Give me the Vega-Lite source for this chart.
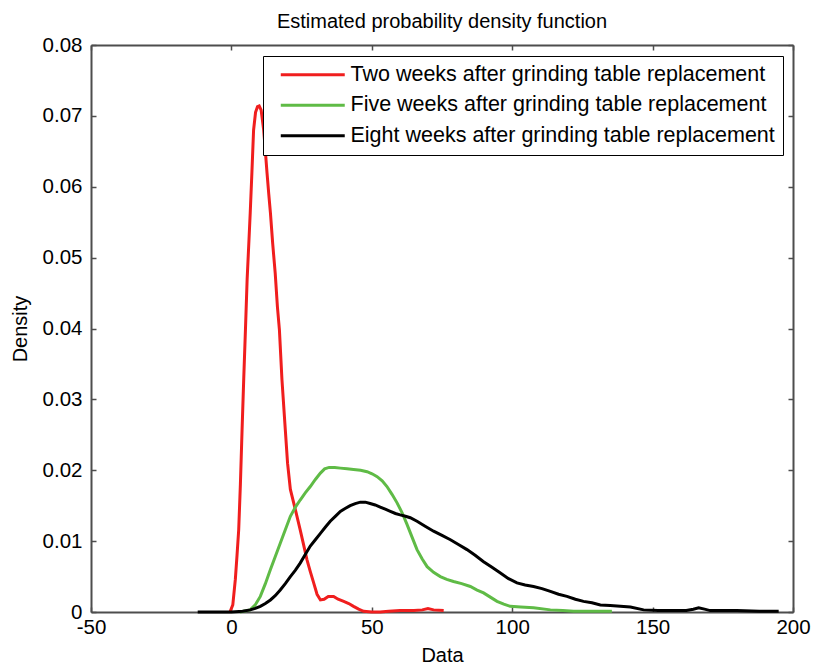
{
  "$schema": "https://vega.github.io/schema/vega-lite/v6.json",
  "width": 702,
  "height": 567,
  "autosize": {"type": "none"},
  "padding": {"left": 91, "top": 45, "right": 23, "bottom": 56},
  "background": "white",
  "config": {
    "font": "Liberation Sans",
    "view": {"stroke": null},
    "axis": {
      "domainColor": "#4d4d4d",
      "domainWidth": 2,
      "tickColor": "#4d4d4d",
      "tickWidth": 1.5,
      "tickSize": -5,
      "grid": false,
      "labelFlush": false,
      "labelFont": "Liberation Sans",
      "labelFontSize": 20.5,
      "labelColor": "black",
      "titleFont": "Liberation Sans",
      "titleFontSize": 20,
      "titleFontWeight": "normal",
      "titleColor": "black"
    }
  },
  "title": {
    "text": "Estimated probability density function",
    "fontSize": 20,
    "fontWeight": "normal",
    "font": "Liberation Sans",
    "color": "black",
    "anchor": "middle",
    "offset": 3
  },
  "data": {
    "values": [
      {"x": -0.5, "y": 0, "s": "Two weeks after grinding table replacement"},
      {"x": 0.5, "y": 0.001, "s": "Two weeks after grinding table replacement"},
      {"x": 1.4, "y": 0.0046, "s": "Two weeks after grinding table replacement"},
      {"x": 2.0, "y": 0.008, "s": "Two weeks after grinding table replacement"},
      {"x": 2.6, "y": 0.0116, "s": "Two weeks after grinding table replacement"},
      {"x": 3.2, "y": 0.018, "s": "Two weeks after grinding table replacement"},
      {"x": 3.8, "y": 0.0257, "s": "Two weeks after grinding table replacement"},
      {"x": 4.4, "y": 0.033, "s": "Two weeks after grinding table replacement"},
      {"x": 5.0, "y": 0.0398, "s": "Two weeks after grinding table replacement"},
      {"x": 5.6, "y": 0.0469, "s": "Two weeks after grinding table replacement"},
      {"x": 6.2, "y": 0.052, "s": "Two weeks after grinding table replacement"},
      {"x": 6.7, "y": 0.0563, "s": "Two weeks after grinding table replacement"},
      {"x": 7.3, "y": 0.062, "s": "Two weeks after grinding table replacement"},
      {"x": 7.9, "y": 0.068, "s": "Two weeks after grinding table replacement"},
      {"x": 8.6, "y": 0.0705, "s": "Two weeks after grinding table replacement"},
      {"x": 9.3, "y": 0.0713, "s": "Two weeks after grinding table replacement"},
      {"x": 9.9, "y": 0.0714, "s": "Two weeks after grinding table replacement"},
      {"x": 10.6, "y": 0.0708, "s": "Two weeks after grinding table replacement"},
      {"x": 11.5, "y": 0.068, "s": "Two weeks after grinding table replacement"},
      {"x": 12.1, "y": 0.065, "s": "Two weeks after grinding table replacement"},
      {"x": 12.7, "y": 0.0619, "s": "Two weeks after grinding table replacement"},
      {"x": 13.3, "y": 0.059, "s": "Two weeks after grinding table replacement"},
      {"x": 13.9, "y": 0.0563, "s": "Two weeks after grinding table replacement"},
      {"x": 14.7, "y": 0.052, "s": "Two weeks after grinding table replacement"},
      {"x": 15.6, "y": 0.0478, "s": "Two weeks after grinding table replacement"},
      {"x": 16.4, "y": 0.043, "s": "Two weeks after grinding table replacement"},
      {"x": 17.1, "y": 0.0398, "s": "Two weeks after grinding table replacement"},
      {"x": 18.0, "y": 0.0328, "s": "Two weeks after grinding table replacement"},
      {"x": 19.2, "y": 0.0257, "s": "Two weeks after grinding table replacement"},
      {"x": 20.0, "y": 0.021, "s": "Two weeks after grinding table replacement"},
      {"x": 21.0, "y": 0.0173, "s": "Two weeks after grinding table replacement"},
      {"x": 22.8, "y": 0.0144, "s": "Two weeks after grinding table replacement"},
      {"x": 24.5, "y": 0.0116, "s": "Two weeks after grinding table replacement"},
      {"x": 25.7, "y": 0.0095, "s": "Two weeks after grinding table replacement"},
      {"x": 26.9, "y": 0.0074, "s": "Two weeks after grinding table replacement"},
      {"x": 28.1, "y": 0.0057, "s": "Two weeks after grinding table replacement"},
      {"x": 29.3, "y": 0.0041, "s": "Two weeks after grinding table replacement"},
      {"x": 30.5, "y": 0.0025, "s": "Two weeks after grinding table replacement"},
      {"x": 31.7, "y": 0.0017, "s": "Two weeks after grinding table replacement"},
      {"x": 33.0, "y": 0.0018, "s": "Two weeks after grinding table replacement"},
      {"x": 34.5, "y": 0.0022, "s": "Two weeks after grinding table replacement"},
      {"x": 36.4, "y": 0.0022, "s": "Two weeks after grinding table replacement"},
      {"x": 38.0, "y": 0.0018, "s": "Two weeks after grinding table replacement"},
      {"x": 40.0, "y": 0.0015, "s": "Two weeks after grinding table replacement"},
      {"x": 41.8, "y": 0.0012, "s": "Two weeks after grinding table replacement"},
      {"x": 43.5, "y": 0.0008, "s": "Two weeks after grinding table replacement"},
      {"x": 45.3, "y": 0.0004, "s": "Two weeks after grinding table replacement"},
      {"x": 47.1, "y": 0.0001, "s": "Two weeks after grinding table replacement"},
      {"x": 50, "y": 0, "s": "Two weeks after grinding table replacement"},
      {"x": 53, "y": 0, "s": "Two weeks after grinding table replacement"},
      {"x": 56, "y": 0.0001, "s": "Two weeks after grinding table replacement"},
      {"x": 60, "y": 0.0002, "s": "Two weeks after grinding table replacement"},
      {"x": 65, "y": 0.0002, "s": "Two weeks after grinding table replacement"},
      {"x": 68, "y": 0.0003, "s": "Two weeks after grinding table replacement"},
      {"x": 70, "y": 0.0005, "s": "Two weeks after grinding table replacement"},
      {"x": 72, "y": 0.0003, "s": "Two weeks after grinding table replacement"},
      {"x": 75.6, "y": 0.0002, "s": "Two weeks after grinding table replacement"},

      {"x": 3, "y": 0, "s": "Five weeks after grinding table replacement"},
      {"x": 6.7, "y": 0.0003, "s": "Five weeks after grinding table replacement"},
      {"x": 8.5, "y": 0.001, "s": "Five weeks after grinding table replacement"},
      {"x": 10.3, "y": 0.0022, "s": "Five weeks after grinding table replacement"},
      {"x": 12.1, "y": 0.004, "s": "Five weeks after grinding table replacement"},
      {"x": 13.9, "y": 0.006, "s": "Five weeks after grinding table replacement"},
      {"x": 15.6, "y": 0.0078, "s": "Five weeks after grinding table replacement"},
      {"x": 17.4, "y": 0.0097, "s": "Five weeks after grinding table replacement"},
      {"x": 19.2, "y": 0.0116, "s": "Five weeks after grinding table replacement"},
      {"x": 21.0, "y": 0.0135, "s": "Five weeks after grinding table replacement"},
      {"x": 22.8, "y": 0.0148, "s": "Five weeks after grinding table replacement"},
      {"x": 24.5, "y": 0.0158, "s": "Five weeks after grinding table replacement"},
      {"x": 26.3, "y": 0.0168, "s": "Five weeks after grinding table replacement"},
      {"x": 28.1, "y": 0.0177, "s": "Five weeks after grinding table replacement"},
      {"x": 29.9, "y": 0.0187, "s": "Five weeks after grinding table replacement"},
      {"x": 31.7, "y": 0.0196, "s": "Five weeks after grinding table replacement"},
      {"x": 33.2, "y": 0.0202, "s": "Five weeks after grinding table replacement"},
      {"x": 34.8, "y": 0.0204, "s": "Five weeks after grinding table replacement"},
      {"x": 36.8, "y": 0.0204, "s": "Five weeks after grinding table replacement"},
      {"x": 38.8, "y": 0.0203, "s": "Five weeks after grinding table replacement"},
      {"x": 41.2, "y": 0.0202, "s": "Five weeks after grinding table replacement"},
      {"x": 43.5, "y": 0.0201, "s": "Five weeks after grinding table replacement"},
      {"x": 46.0, "y": 0.02, "s": "Five weeks after grinding table replacement"},
      {"x": 48.3, "y": 0.0198, "s": "Five weeks after grinding table replacement"},
      {"x": 50.1, "y": 0.0195, "s": "Five weeks after grinding table replacement"},
      {"x": 51.9, "y": 0.0191, "s": "Five weeks after grinding table replacement"},
      {"x": 53.7, "y": 0.0185, "s": "Five weeks after grinding table replacement"},
      {"x": 55.4, "y": 0.0177, "s": "Five weeks after grinding table replacement"},
      {"x": 57.2, "y": 0.0166, "s": "Five weeks after grinding table replacement"},
      {"x": 59.0, "y": 0.0154, "s": "Five weeks after grinding table replacement"},
      {"x": 60.8, "y": 0.014, "s": "Five weeks after grinding table replacement"},
      {"x": 62.5, "y": 0.0124, "s": "Five weeks after grinding table replacement"},
      {"x": 64.3, "y": 0.0106, "s": "Five weeks after grinding table replacement"},
      {"x": 66.1, "y": 0.0088, "s": "Five weeks after grinding table replacement"},
      {"x": 67.9, "y": 0.0075, "s": "Five weeks after grinding table replacement"},
      {"x": 69.7, "y": 0.0064, "s": "Five weeks after grinding table replacement"},
      {"x": 72.0, "y": 0.0056, "s": "Five weeks after grinding table replacement"},
      {"x": 74.4, "y": 0.005, "s": "Five weeks after grinding table replacement"},
      {"x": 76.7, "y": 0.0046, "s": "Five weeks after grinding table replacement"},
      {"x": 79.1, "y": 0.0043, "s": "Five weeks after grinding table replacement"},
      {"x": 82.0, "y": 0.004, "s": "Five weeks after grinding table replacement"},
      {"x": 85.1, "y": 0.0036, "s": "Five weeks after grinding table replacement"},
      {"x": 87.5, "y": 0.0031, "s": "Five weeks after grinding table replacement"},
      {"x": 89.8, "y": 0.0027, "s": "Five weeks after grinding table replacement"},
      {"x": 92.2, "y": 0.0021, "s": "Five weeks after grinding table replacement"},
      {"x": 94.6, "y": 0.0015, "s": "Five weeks after grinding table replacement"},
      {"x": 97.0, "y": 0.0011, "s": "Five weeks after grinding table replacement"},
      {"x": 99.3, "y": 0.0008, "s": "Five weeks after grinding table replacement"},
      {"x": 103.0, "y": 0.0007, "s": "Five weeks after grinding table replacement"},
      {"x": 107.6, "y": 0.0006, "s": "Five weeks after grinding table replacement"},
      {"x": 113.6, "y": 0.0003, "s": "Five weeks after grinding table replacement"},
      {"x": 118.0, "y": 0.0002, "s": "Five weeks after grinding table replacement"},
      {"x": 121.9, "y": 0.0001, "s": "Five weeks after grinding table replacement"},
      {"x": 128.0, "y": 0.0001, "s": "Five weeks after grinding table replacement"},
      {"x": 135.5, "y": 0.0001, "s": "Five weeks after grinding table replacement"},

      {"x": -12, "y": 0, "s": "Eight weeks after grinding table replacement"},
      {"x": -5, "y": 0, "s": "Eight weeks after grinding table replacement"},
      {"x": 0, "y": 0, "s": "Eight weeks after grinding table replacement"},
      {"x": 4, "y": 0.0001, "s": "Eight weeks after grinding table replacement"},
      {"x": 6.7, "y": 0.0003, "s": "Eight weeks after grinding table replacement"},
      {"x": 8.5, "y": 0.0005, "s": "Eight weeks after grinding table replacement"},
      {"x": 10.3, "y": 0.0008, "s": "Eight weeks after grinding table replacement"},
      {"x": 12.1, "y": 0.0012, "s": "Eight weeks after grinding table replacement"},
      {"x": 13.9, "y": 0.0017, "s": "Eight weeks after grinding table replacement"},
      {"x": 15.6, "y": 0.0023, "s": "Eight weeks after grinding table replacement"},
      {"x": 17.4, "y": 0.0031, "s": "Eight weeks after grinding table replacement"},
      {"x": 19.2, "y": 0.004, "s": "Eight weeks after grinding table replacement"},
      {"x": 21.0, "y": 0.005, "s": "Eight weeks after grinding table replacement"},
      {"x": 22.8, "y": 0.0059, "s": "Eight weeks after grinding table replacement"},
      {"x": 24.5, "y": 0.0069, "s": "Eight weeks after grinding table replacement"},
      {"x": 26.3, "y": 0.0081, "s": "Eight weeks after grinding table replacement"},
      {"x": 28.1, "y": 0.0093, "s": "Eight weeks after grinding table replacement"},
      {"x": 29.9, "y": 0.0102, "s": "Eight weeks after grinding table replacement"},
      {"x": 31.7, "y": 0.0111, "s": "Eight weeks after grinding table replacement"},
      {"x": 33.5, "y": 0.012, "s": "Eight weeks after grinding table replacement"},
      {"x": 35.2, "y": 0.0128, "s": "Eight weeks after grinding table replacement"},
      {"x": 37.0, "y": 0.0135, "s": "Eight weeks after grinding table replacement"},
      {"x": 38.8, "y": 0.0142, "s": "Eight weeks after grinding table replacement"},
      {"x": 40.5, "y": 0.0146, "s": "Eight weeks after grinding table replacement"},
      {"x": 42.3, "y": 0.015, "s": "Eight weeks after grinding table replacement"},
      {"x": 44.1, "y": 0.0153, "s": "Eight weeks after grinding table replacement"},
      {"x": 45.9, "y": 0.0155, "s": "Eight weeks after grinding table replacement"},
      {"x": 47.7, "y": 0.0155, "s": "Eight weeks after grinding table replacement"},
      {"x": 49.4, "y": 0.0153, "s": "Eight weeks after grinding table replacement"},
      {"x": 51.2, "y": 0.0151, "s": "Eight weeks after grinding table replacement"},
      {"x": 53.0, "y": 0.0148, "s": "Eight weeks after grinding table replacement"},
      {"x": 54.8, "y": 0.0145, "s": "Eight weeks after grinding table replacement"},
      {"x": 56.6, "y": 0.0142, "s": "Eight weeks after grinding table replacement"},
      {"x": 58.4, "y": 0.0139, "s": "Eight weeks after grinding table replacement"},
      {"x": 60.1, "y": 0.0137, "s": "Eight weeks after grinding table replacement"},
      {"x": 62.0, "y": 0.0135, "s": "Eight weeks after grinding table replacement"},
      {"x": 63.7, "y": 0.0133, "s": "Eight weeks after grinding table replacement"},
      {"x": 66.1, "y": 0.0128, "s": "Eight weeks after grinding table replacement"},
      {"x": 69.0, "y": 0.0121, "s": "Eight weeks after grinding table replacement"},
      {"x": 72.0, "y": 0.0114, "s": "Eight weeks after grinding table replacement"},
      {"x": 75.0, "y": 0.0108, "s": "Eight weeks after grinding table replacement"},
      {"x": 78.0, "y": 0.0102, "s": "Eight weeks after grinding table replacement"},
      {"x": 81.0, "y": 0.0095, "s": "Eight weeks after grinding table replacement"},
      {"x": 83.9, "y": 0.0088, "s": "Eight weeks after grinding table replacement"},
      {"x": 86.8, "y": 0.008, "s": "Eight weeks after grinding table replacement"},
      {"x": 89.8, "y": 0.0071, "s": "Eight weeks after grinding table replacement"},
      {"x": 92.8, "y": 0.0063, "s": "Eight weeks after grinding table replacement"},
      {"x": 95.8, "y": 0.0055, "s": "Eight weeks after grinding table replacement"},
      {"x": 98.7, "y": 0.0047, "s": "Eight weeks after grinding table replacement"},
      {"x": 101.7, "y": 0.0041, "s": "Eight weeks after grinding table replacement"},
      {"x": 104.6, "y": 0.0038, "s": "Eight weeks after grinding table replacement"},
      {"x": 107.6, "y": 0.0036, "s": "Eight weeks after grinding table replacement"},
      {"x": 110.6, "y": 0.0033, "s": "Eight weeks after grinding table replacement"},
      {"x": 113.6, "y": 0.0029, "s": "Eight weeks after grinding table replacement"},
      {"x": 116.5, "y": 0.0025, "s": "Eight weeks after grinding table replacement"},
      {"x": 119.5, "y": 0.0022, "s": "Eight weeks after grinding table replacement"},
      {"x": 122.5, "y": 0.0018, "s": "Eight weeks after grinding table replacement"},
      {"x": 125.4, "y": 0.0015, "s": "Eight weeks after grinding table replacement"},
      {"x": 128.4, "y": 0.0013, "s": "Eight weeks after grinding table replacement"},
      {"x": 131.4, "y": 0.001, "s": "Eight weeks after grinding table replacement"},
      {"x": 134.9, "y": 0.0009, "s": "Eight weeks after grinding table replacement"},
      {"x": 138.5, "y": 0.0008, "s": "Eight weeks after grinding table replacement"},
      {"x": 142.1, "y": 0.0007, "s": "Eight weeks after grinding table replacement"},
      {"x": 146.8, "y": 0.0003, "s": "Eight weeks after grinding table replacement"},
      {"x": 152.0, "y": 0.0002, "s": "Eight weeks after grinding table replacement"},
      {"x": 157.5, "y": 0.0002, "s": "Eight weeks after grinding table replacement"},
      {"x": 162.0, "y": 0.0002, "s": "Eight weeks after grinding table replacement"},
      {"x": 164.5, "y": 0.0004, "s": "Eight weeks after grinding table replacement"},
      {"x": 166.4, "y": 0.0006, "s": "Eight weeks after grinding table replacement"},
      {"x": 168.5, "y": 0.0004, "s": "Eight weeks after grinding table replacement"},
      {"x": 170.5, "y": 0.0002, "s": "Eight weeks after grinding table replacement"},
      {"x": 180.0, "y": 0.0002, "s": "Eight weeks after grinding table replacement"},
      {"x": 188.0, "y": 0.0001, "s": "Eight weeks after grinding table replacement"},
      {"x": 194.9, "y": 0.0001, "s": "Eight weeks after grinding table replacement"}
    ]
  },
  "layer": [
    {
      "mark": {"type": "line", "strokeWidth": 3, "interpolate": "linear"},
      "encoding": {
        "x": {
          "field": "x",
          "type": "quantitative",
          "scale": {"domain": [-50, 200], "nice": false, "zero": false},
          "axis": {
            "orient": "bottom",
            "values": [-50, 0, 50, 100, 150, 200],
            "labelExpr": "datum.value < 0 ? '-' + format(-datum.value, 'd') : format(datum.value, 'd')",
            "labelPadding": 10,
            "title": "Data",
            "titlePadding": 8
          }
        },
        "y": {
          "field": "y",
          "type": "quantitative",
          "scale": {"domain": [0, 0.08], "nice": false},
          "axis": {
            "orient": "left",
            "values": [0, 0.01, 0.02, 0.03, 0.04, 0.05, 0.06, 0.07, 0.08],
            "format": "~g",
            "labelPadding": 14,
            "title": "Density",
            "titlePadding": 12
          }
        },
        "color": {
          "field": "s",
          "type": "nominal",
          "scale": {
            "domain": [
              "Two weeks after grinding table replacement",
              "Five weeks after grinding table replacement",
              "Eight weeks after grinding table replacement"
            ],
            "range": ["#f01e1e", "#5fbb46", "#000000"]
          },
          "legend": {
            "orient": "none",
            "legendX": 172,
            "legendY": 11,
            "title": null,
            "symbolType": "M-0.13,0H8.4",
            "symbolSize": 225,
            "symbolStrokeWidth": 3,
            "labelFontSize": 21.5,
            "labelFont": "Liberation Sans",
            "labelColor": "black",
            "labelLimit": 600,
            "labelOffset": 58,
            "strokeColor": "black",
            "fillColor": "white",
            "padding": 8,
            "rowPadding": 7.5
          }
        }
      }
    },
    {
      "mark": {"type": "line", "opacity": 0},
      "encoding": {
        "x": {
          "field": "x",
          "type": "quantitative",
          "axis": {"orient": "top", "values": [-50, 0, 50, 100, 150, 200], "labels": false, "title": null}
        },
        "y": {
          "field": "y",
          "type": "quantitative",
          "axis": {"orient": "right", "values": [0, 0.01, 0.02, 0.03, 0.04, 0.05, 0.06, 0.07, 0.08], "labels": false, "title": null}
        }
      }
    }
  ],
  "resolve": {"axis": {"x": "independent", "y": "independent"}}
}
